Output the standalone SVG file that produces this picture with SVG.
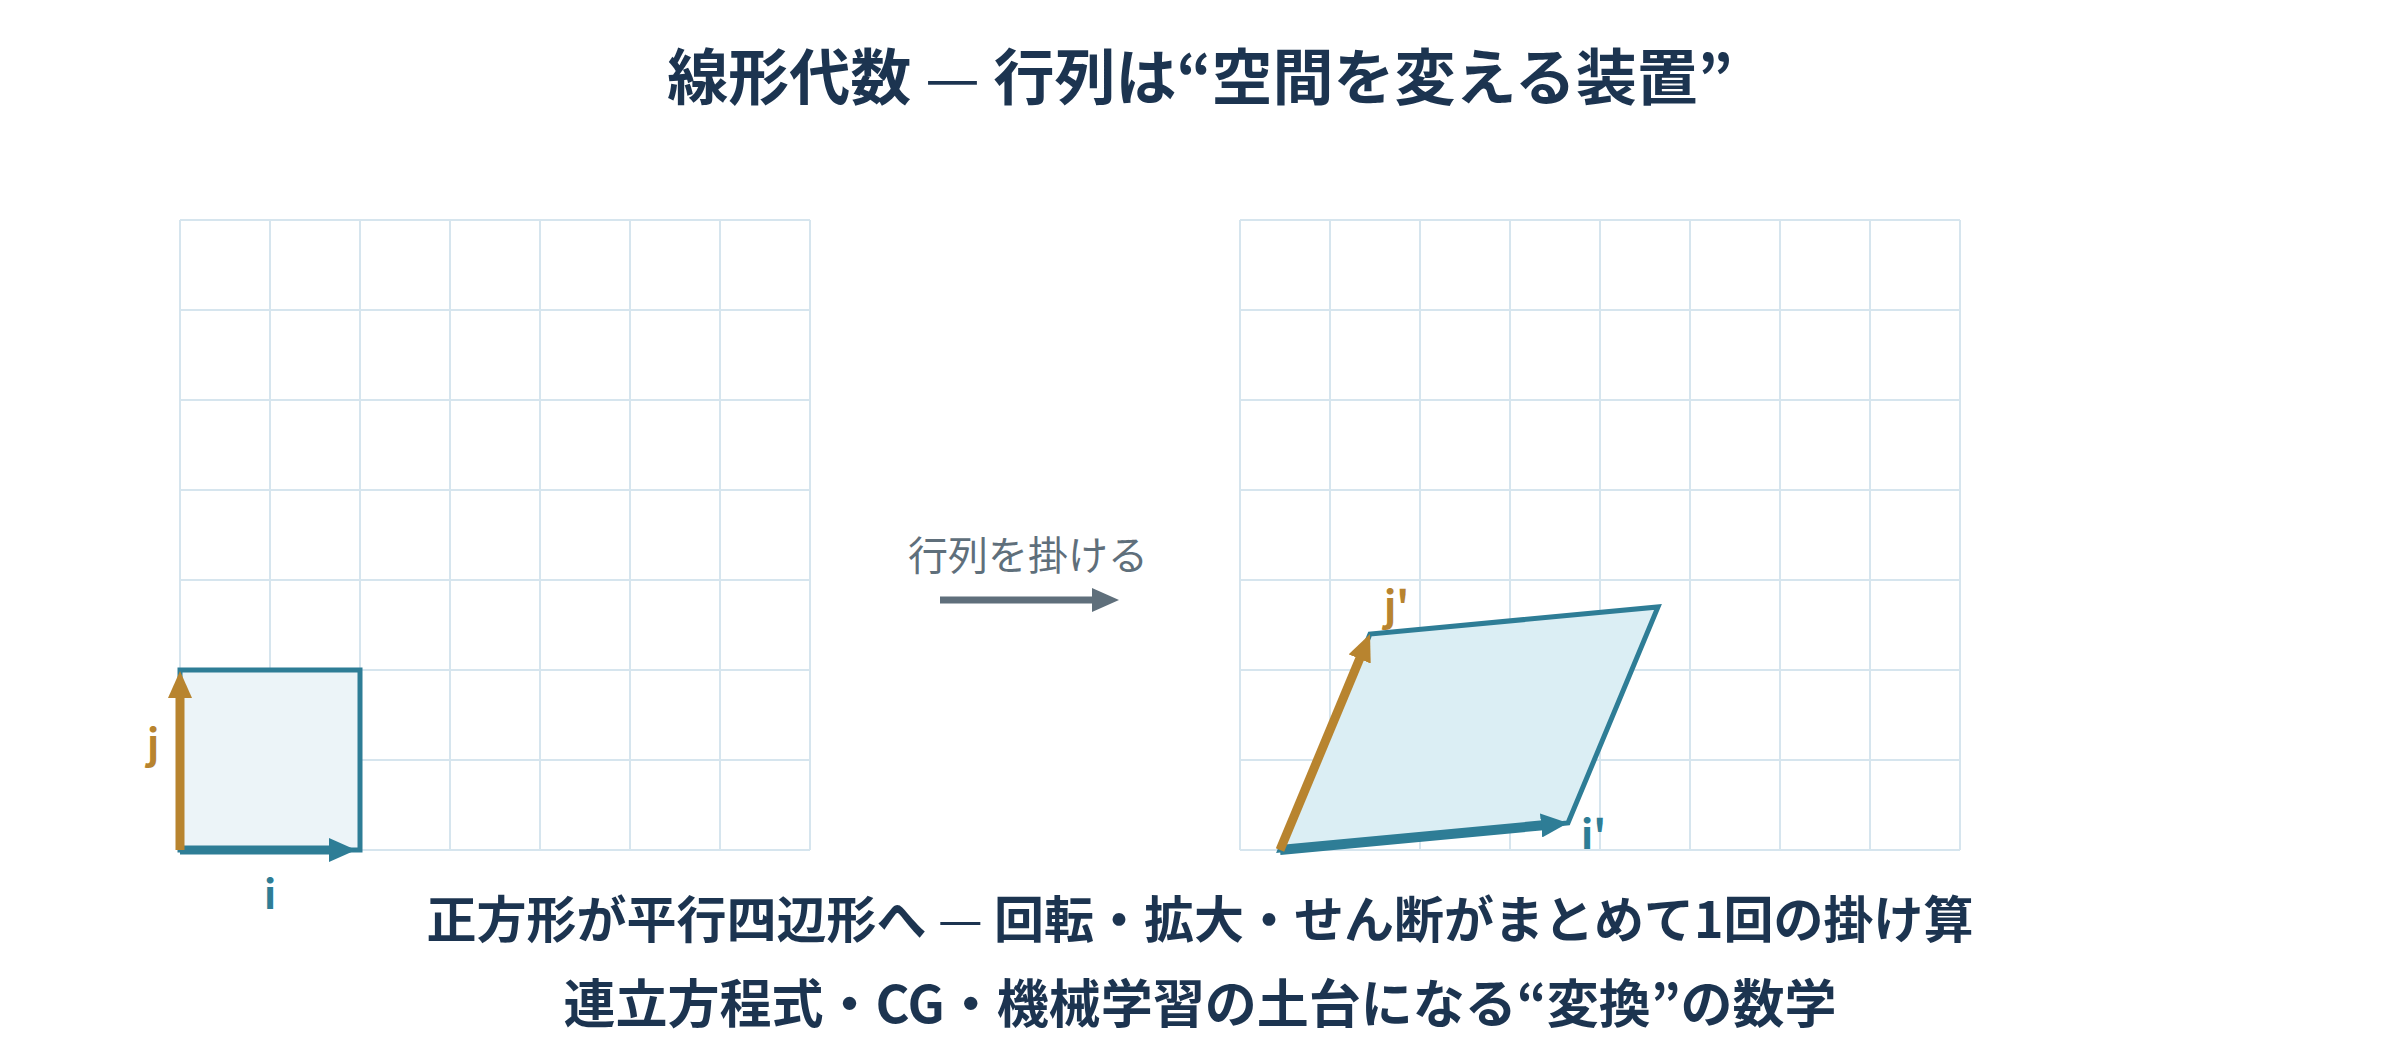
<svg xmlns="http://www.w3.org/2000/svg" width="2400" height="1040" viewBox="0 0 2400 1040">
<style>
  text { font-family: "Noto Sans CJK JP", "Noto Sans", sans-serif; }
  .title { font-size: 61px; font-weight: 700; fill: #1c3450; text-anchor: middle; }
  .caption { font-size: 50px; font-weight: 700; fill: #1c3450; text-anchor: middle; }
  .caption2 { font-size: 52px; }
  .dash { font-weight: 400; }
  .grid line { stroke: #d6e5ee; stroke-width: 2; }
  .vlabel { font-size: 40px; font-weight: 700; }
  .teal { fill: #2e7d96; }
  .gold { fill: #b8842f; }
  .op { font-size: 40px; fill: #5f6f7b; text-anchor: middle; }
</style>
<defs>
  <marker id="headTeal" markerUnits="userSpaceOnUse" markerWidth="27" markerHeight="24" refX="2" refY="12" orient="auto">
    <path d="M0,0 L27,12 L0,24 z" fill="#2e7d96"/>
  </marker>
  <marker id="headGold" markerUnits="userSpaceOnUse" markerWidth="27" markerHeight="24" refX="2" refY="12" orient="auto">
    <path d="M0,0 L27,12 L0,24 z" fill="#b8842f"/>
  </marker>
  <marker id="headGrey" markerUnits="userSpaceOnUse" markerWidth="27" markerHeight="24" refX="2" refY="12" orient="auto">
    <path d="M0,0 L27,12 L0,24 z" fill="#5f6f7b"/>
  </marker>
</defs>
<rect width="2400" height="1040" fill="#ffffff"/>

<g id="title">
  <text class="title" x="1200" y="100">線形代数 <tspan class="dash">—</tspan> 行列は“空間を変える装置”</text>
</g>

<g id="grid-left" class="grid">
  <line x1="180" y1="220" x2="180" y2="850"/>
  <line x1="270" y1="220" x2="270" y2="850"/>
  <line x1="360" y1="220" x2="360" y2="850"/>
  <line x1="450" y1="220" x2="450" y2="850"/>
  <line x1="540" y1="220" x2="540" y2="850"/>
  <line x1="630" y1="220" x2="630" y2="850"/>
  <line x1="720" y1="220" x2="720" y2="850"/>
  <line x1="810" y1="220" x2="810" y2="850"/>
  <line x1="180" y1="220" x2="810" y2="220"/>
  <line x1="180" y1="310" x2="810" y2="310"/>
  <line x1="180" y1="400" x2="810" y2="400"/>
  <line x1="180" y1="490" x2="810" y2="490"/>
  <line x1="180" y1="580" x2="810" y2="580"/>
  <line x1="180" y1="670" x2="810" y2="670"/>
  <line x1="180" y1="760" x2="810" y2="760"/>
  <line x1="180" y1="850" x2="810" y2="850"/>
</g>

<g id="grid-right" class="grid">
  <line x1="1240" y1="220" x2="1240" y2="850"/>
  <line x1="1330" y1="220" x2="1330" y2="850"/>
  <line x1="1420" y1="220" x2="1420" y2="850"/>
  <line x1="1510" y1="220" x2="1510" y2="850"/>
  <line x1="1600" y1="220" x2="1600" y2="850"/>
  <line x1="1690" y1="220" x2="1690" y2="850"/>
  <line x1="1780" y1="220" x2="1780" y2="850"/>
  <line x1="1870" y1="220" x2="1870" y2="850"/>
  <line x1="1960" y1="220" x2="1960" y2="850"/>
  <line x1="1240" y1="220" x2="1960" y2="220"/>
  <line x1="1240" y1="310" x2="1960" y2="310"/>
  <line x1="1240" y1="400" x2="1960" y2="400"/>
  <line x1="1240" y1="490" x2="1960" y2="490"/>
  <line x1="1240" y1="580" x2="1960" y2="580"/>
  <line x1="1240" y1="670" x2="1960" y2="670"/>
  <line x1="1240" y1="760" x2="1960" y2="760"/>
  <line x1="1240" y1="850" x2="1960" y2="850"/>
</g>

<g id="unit-square">
  <rect x="180" y="670" width="180" height="180" fill="#ecf4f8" stroke="#2e7d96" stroke-width="5"/>
</g>

<g id="parallelogram">
  <polygon points="1280,850 1568,823 1658,607 1370,634" fill="#dbeef4" stroke="#2e7d96" stroke-width="5" stroke-linejoin="miter"/>
</g>

<g id="connectors">
  <line x1="180" y1="850" x2="331" y2="850" stroke="#2e7d96" stroke-width="9" marker-end="url(#headTeal)"/>
  <line x1="180" y1="850" x2="180" y2="696" stroke="#b8842f" stroke-width="9" marker-end="url(#headGold)"/>
  <line x1="1280" y1="850" x2="1543.1" y2="825.3" stroke="#2e7d96" stroke-width="10" marker-end="url(#headTeal)"/>
  <line x1="1280" y1="850" x2="1360.4" y2="657.1" stroke="#b8842f" stroke-width="9" marker-end="url(#headGold)"/>
  <line x1="940" y1="600" x2="1094" y2="600" stroke="#5f6f7b" stroke-width="7" marker-end="url(#headGrey)"/>
</g>

<g id="labels">
  <text class="vlabel teal" x="270" y="909" text-anchor="middle">i</text>
  <text class="vlabel gold" x="153" y="758" text-anchor="middle">j</text>
  <text class="vlabel gold" x="1384" y="620">j'</text>
  <text class="vlabel teal" x="1581" y="849">i'</text>
  <text class="op" x="1028" y="570">行列を掛ける</text>
</g>

<g id="caption">
  <text class="caption" x="1200" y="938">正方形が平行四辺形へ <tspan class="dash">—</tspan> 回転・拡大・せん断がまとめて1回の掛け算</text>
  <text class="caption caption2" x="1200" y="1023">連立方程式・CG・機械学習の土台になる“変換”の数学</text>
</g>
</svg>
